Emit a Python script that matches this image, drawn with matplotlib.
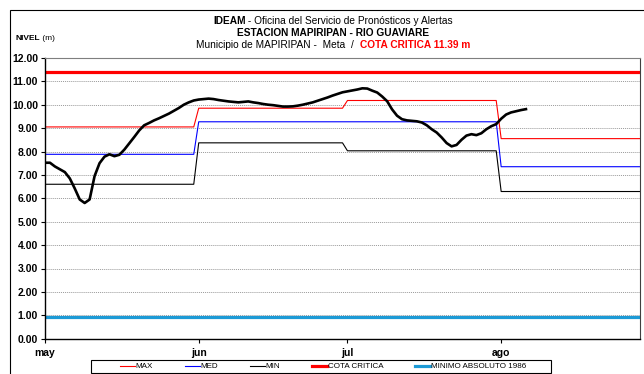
import matplotlib
matplotlib.use("Agg")
import matplotlib.pyplot as plt
from matplotlib.patches import Rectangle
import numpy as np

plt.rcParams['font.family'] = ['Liberation Sans', 'DejaVu Sans']

# Nivel diario observado (m), dia 0 = 1 de mayo
nivel = [7.52, 7.52, 7.36, 7.24, 7.12, 6.85, 6.42, 5.95, 5.80, 5.95,
         6.95, 7.50, 7.78, 7.88, 7.80, 7.86, 8.08, 8.35, 8.62, 8.90,
         9.12, 9.22, 9.33, 9.42, 9.52, 9.62, 9.74, 9.86, 10.00, 10.10,
         10.18, 10.22, 10.24, 10.26, 10.24, 10.20, 10.17, 10.14, 10.12, 10.10,
         10.12, 10.14, 10.10, 10.07, 10.03, 10.00, 9.98, 9.95, 9.92, 9.92,
         9.93, 9.96, 10.00, 10.05, 10.10, 10.17, 10.24, 10.31, 10.39, 10.46,
         10.53, 10.57, 10.61, 10.65, 10.70, 10.69, 10.60, 10.52, 10.35, 10.15,
         9.80, 9.53, 9.38, 9.33, 9.31, 9.29, 9.24, 9.12, 8.95, 8.81,
         8.60, 8.36, 8.22, 8.28, 8.50, 8.68, 8.74, 8.70, 8.78, 8.95,
         9.08, 9.17, 9.40, 9.58, 9.67, 9.72, 9.77, 9.81]

# Valores mensuales historicos (may, jun, jul, ago)
meses = ['may', 'jun', 'jul', 'ago']
dias_mes = [31, 30, 31, 31]
nivel_max = [9.05, 9.85, 10.18, 8.55]
nivel_med = [7.88, 9.27, 9.27, 7.35]
nivel_min = [6.60, 8.37, 8.03, 6.29]
cota_critica = 11.39
minimo_absoluto = 0.91

dias = np.arange(sum(dias_mes))
inicio_mes = np.concatenate([[0], np.cumsum(dias_mes)[:-1]])

fig = plt.figure(figsize=(6.44, 3.74), dpi=100)
ax = fig.add_axes([45/644, 1 - 338.7/374, 595/644, 280.8/374])

# borde del area del grafico
fig.patches.append(Rectangle((10/644, -0.1), 1.0, 1 - 10/374 + 0.1,
                             transform=fig.transFigure, fill=False,
                             edgecolor='black', lw=0.8))

ax.plot(dias, np.repeat(nivel_max, dias_mes), color='#FF0000', lw=0.8, label='MAX')
ax.plot(dias, np.repeat(nivel_med, dias_mes), color='#0000FF', lw=0.8, label='MED')
ax.plot(dias, np.repeat(nivel_min, dias_mes), color='#000000', lw=0.8, label='MIN')
ax.axhline(cota_critica, color='#FF0000', lw=2.3, label='COTA CRITICA')
ax.axhline(minimo_absoluto, color='#1C9AD6', lw=2.3, label='MINIMO ABSOLUTO 1986')
ax.plot(np.arange(len(nivel)), nivel, color='black', lw=1.9, zorder=5)

ax.set_xlim(0, 120)
ax.set_ylim(0, 12)
ax.set_yticks(np.arange(0, 13, 1))
ax.set_yticklabels([f"{v:.2f}" for v in range(13)], fontsize=7.5, fontweight='bold')
ax.set_xticks(inicio_mes)
ax.set_xticklabels(meses, fontsize=7.5, fontweight='bold')
ax.tick_params(axis='y', direction='out', length=3, width=0.8, pad=2)
ax.tick_params(axis='x', direction='out', length=3, width=0.8, pad=4)
ax.yaxis.grid(True, color='#9A9A9A', linestyle=(0, (1, 1)), lw=0.7)
ax.set_axisbelow(True)
for s in ['left', 'bottom']:
    ax.spines[s].set_color('black')
    ax.spines[s].set_linewidth(1.0)
ax.spines['top'].set_color('#7F7F7F')
ax.spines['top'].set_linewidth(0.8)
ax.spines['right'].set_color('#404040')
ax.spines['right'].set_linewidth(0.8)

renderer = fig.canvas.get_renderer()


def texto_mixto(partes, xc, y, size):
    # coloca varios trozos de texto seguidos, centrados en xc (pixeles)
    objs = []
    for txt, peso, color in partes:
        t = fig.text(0, 1 - y/374, txt, fontsize=size, fontweight=peso,
                     color=color, va='center', ha='left')
        objs.append(t)
    anchos = [t.get_window_extent(renderer).width for t in objs]
    x = xc - sum(anchos) / 2
    for t, w in zip(objs, anchos):
        t.set_x(x / 644)
        x += w


texto_mixto([('IDEAM', 'bold', 'black'),
             (' - Oficina del Servicio de Pronósticos y Alertas', 'normal', 'black')],
            333, 21, 7.3)
texto_mixto([('ESTACION MAPIRIPAN - RIO GUAVIARE', 'bold', 'black')], 333, 33, 7.3)
texto_mixto([('Municipio de MAPIRIPAN -  Meta  /  ', 'normal', 'black'),
             ('COTA CRITICA 11.39 m', 'bold', '#FF0000')], 333, 45, 7.3)

t1 = fig.text(16/644, 1 - 39/374, 'NIVEL', fontsize=6, fontweight='bold', va='center')
w1 = t1.get_window_extent(renderer).width
fig.text((16 + w1)/644, 1 - 39/374, ' (m)', fontsize=6, va='center')

# leyenda: caja fija y entradas centradas dentro
fig.patches.append(Rectangle((91/644, 1 - 373/374), 460/644, 13/374,
                             transform=fig.transFigure, fill=False,
                             edgecolor='black', lw=0.8))
fig.legend(loc='center', bbox_to_anchor=(323/644, 1 - 366.5/374),
           ncol=5, fontsize=5.8, frameon=False, handlelength=1.9,
           handletextpad=0.1, columnspacing=3.9, borderpad=0, borderaxespad=0)

fig.savefig('out.png', dpi=100)
